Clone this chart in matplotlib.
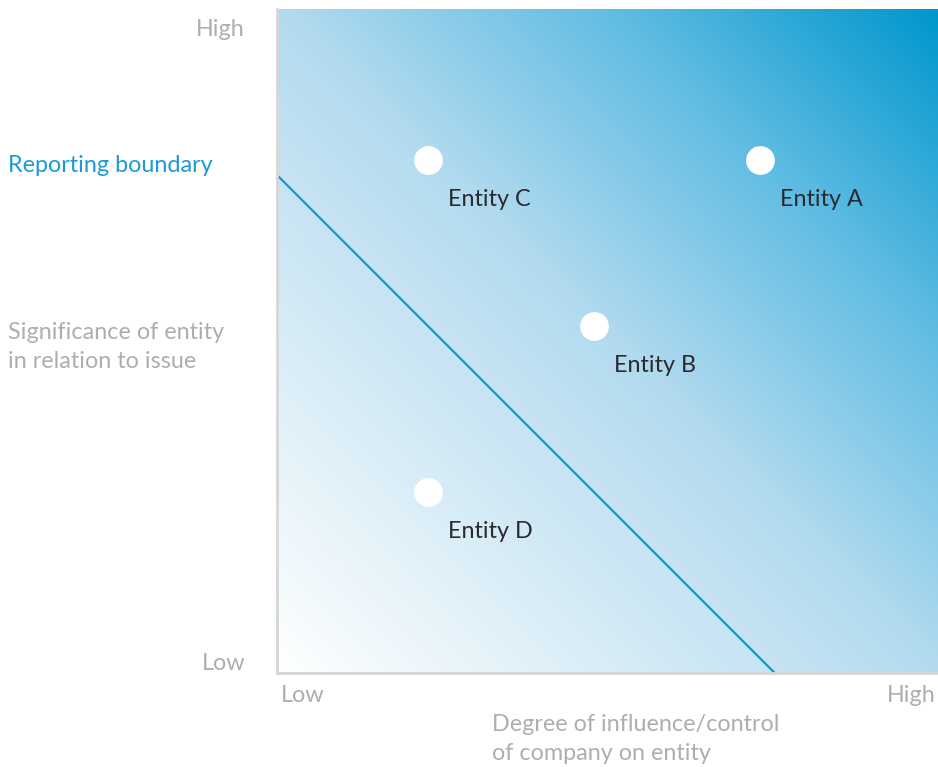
import numpy as np
import matplotlib
matplotlib.use("Agg")
from matplotlib import pyplot as plt
from matplotlib.colors import LinearSegmentedColormap

# entity positions (0 = low, 1 = high)
entities = ["Entity A", "Entity B", "Entity C", "Entity D"]
influence = [0.731, 0.480, 0.228, 0.228]
significance = [0.773, 0.523, 0.773, 0.273]

# reporting boundary line end points
boundary_x = [0.0, 0.753]
boundary_y = [0.75, 0.0]

grey = "#aeaeb0"
blue = "#1a9ad6"
fs = 16.8
plt.rcParams['font.family'] = ['Lato', 'DejaVu Sans']

fig = plt.figure(figsize=(9.38, 7.67), dpi=100)
ax = fig.add_axes([277 / 938, 94 / 767, 661 / 938, 664 / 767])

# diagonal gradient background
cmap = LinearSegmentedColormap.from_list(
    "grad", [(0.0, "#ffffff"), (0.5, "#b3dbef"), (0.75, "#62bde3"), (1.0, "#0097cd")])
gx, gy = np.meshgrid(np.linspace(0, 1, 400), np.linspace(0, 1, 400))
ax.imshow((gx + gy) / 2, cmap=cmap, origin="lower", extent=[0, 1, 0, 1],
          aspect="auto", vmin=0, vmax=1, zorder=0)

ax.plot(boundary_x, boundary_y, color="#1196d6", lw=1.6, zorder=2)
ax.scatter(influence, significance, s=430, color="white", zorder=3, linewidths=0)
for name, x, y in zip(entities, influence, significance):
    ax.text(x + 0.03, y - 0.06, name, fontsize=fs, color="#2a2a2e",
            va="center", ha="left", zorder=4)

ax.set_xlim(0, 1)
ax.set_ylim(0, 1)
ax.set_xticks([])
ax.set_yticks([])
for s in ["top", "right"]:
    ax.spines[s].set_visible(False)
for s in ["left", "bottom"]:
    ax.spines[s].set_color("#d6d6d6")
    ax.spines[s].set_linewidth(2)

# axis annotations
fig.text(245 / 938, 1 - 30 / 767, "High", fontsize=fs, color=grey, ha="right", va="center")
fig.text(245 / 938, 1 - 664 / 767, "Low", fontsize=fs, color=grey, ha="right", va="center")
fig.text(8 / 938, 1 - 165 / 767, "Reporting boundary", fontsize=fs, color=blue,
         ha="left", va="center")
fig.text(8 / 938, 1 - 347 / 767, "Significance of entity\nin relation to issue",
         fontsize=fs, color=grey, ha="left", va="center", linespacing=1.45)
fig.text(281 / 938, 1 - 695 / 767, "Low", fontsize=fs, color=grey, ha="left", va="center")
fig.text(936 / 938, 1 - 695 / 767, "High", fontsize=fs, color=grey, ha="right", va="center")
fig.text(492 / 938, 1 - 739 / 767, "Degree of influence/control\nof company on entity",
         fontsize=fs, color=grey, ha="left", va="center", linespacing=1.45)

fig.savefig("out.png", dpi=100)
